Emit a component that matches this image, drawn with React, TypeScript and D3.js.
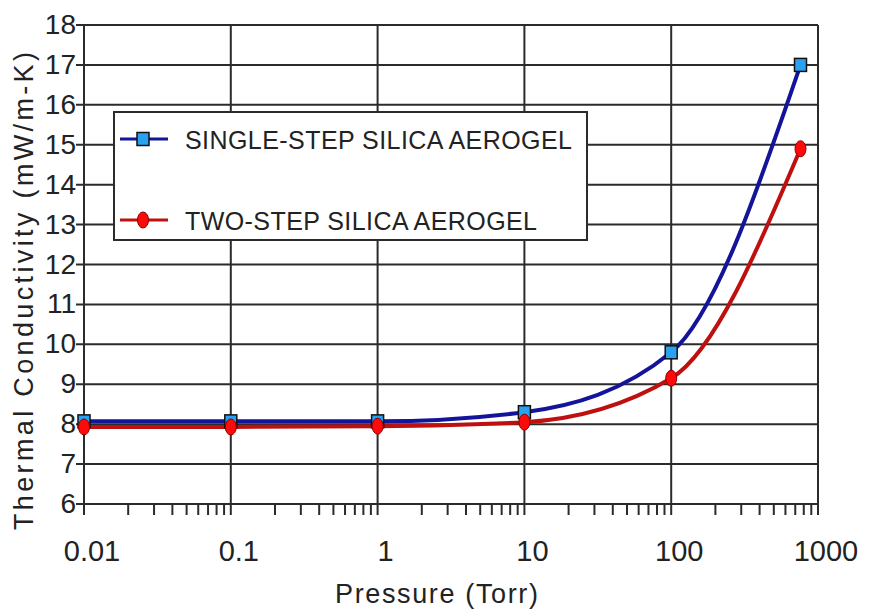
import React from "react";
import * as d3 from "d3";

const pressures = [0.01, 0.1, 1, 10, 100, 760];
const singleStep = [8.07, 8.07, 8.07, 8.3, 9.8, 17.0];
const twoStep = [7.93, 7.93, 7.95, 8.05, 9.15, 14.9];
const xTickValues = [0.01, 0.1, 1, 10, 100, 1000];
const xTickLabels = ["0.01", "0.1", "1", "10", "100", "1000"];
const yTickValues = [6, 7, 8, 9, 10, 11, 12, 13, 14, 15, 16, 17, 18];
const seriesNames = ["SINGLE-STEP SILICA AEROGEL", "TWO-STEP SILICA AEROGEL"];

const W = 882, H = 611;
const L = 84, R = 818, T = 25, B = 504;
const gridColor = "#2b2b2b";
const textColor = "#222";
const blue = "#14149a";
const red = "#bf1010";
const tickFont = "Liberation Sans, Arial, sans-serif";

function Square({ cx, cy }: { cx: number; cy: number }) {
  return <rect x={cx - 6} y={cy - 6.5} width={12} height={13} fill="#2aa0f0" stroke="#111" strokeWidth={1.5} />;
}
function Oval({ cx, cy }: { cx: number; cy: number }) {
  return <ellipse cx={cx} cy={cy} rx={5.5} ry={8} fill="#ff0a0a" stroke="#8a0000" strokeWidth={1} />;
}

export default function App() {
  const x = d3.scaleLog().domain([0.01, 1000]).range([L, R]);
  const y = d3.scaleLinear().domain([6, 18]).range([B, T]);
  const minor = x.ticks().filter((v) => !xTickValues.some((d) => Math.abs(d - v) / d < 1e-9));
  const line = d3
    .line<number>()
    .x((_, i) => x(pressures[i]))
    .y((d) => y(d))
    .curve(d3.curveMonotoneX);

  const lx0 = 114, ly0 = 112, lw = 473, lh = 128;
  const legendRows = [139, 220];
  const legendLengths = [387, 352];

  return (
    <div style={{ position: "absolute", left: 0, top: 0 }}>
      <svg width={W} height={H} style={{ display: "block", background: "#fff" }}>
        {yTickValues.map((v) => (
          <line key={"gy" + v} x1={L - 8} x2={R} y1={y(v)} y2={y(v)} stroke={gridColor} strokeWidth={2} />
        ))}
        {xTickValues.map((v) => (
          <line key={"gx" + v} x1={x(v)} x2={x(v)} y1={T} y2={B + 11} stroke={gridColor} strokeWidth={2} />
        ))}
        {minor.map((v) => (
          <line key={"mx" + v} x1={x(v)} x2={x(v)} y1={B} y2={B + 11} stroke={gridColor} strokeWidth={2} />
        ))}
        <path d={line(singleStep) || ""} fill="none" stroke={blue} strokeWidth={4} />
        <path d={line(twoStep) || ""} fill="none" stroke={red} strokeWidth={4} />
        {pressures.map((p, i) => (
          <Square key={"s" + i} cx={x(p)} cy={y(singleStep[i])} />
        ))}
        {pressures.map((p, i) => (
          <Oval key={"o" + i} cx={x(p)} cy={y(twoStep[i])} />
        ))}
        <rect x={lx0} y={ly0} width={lw} height={lh} fill="#fff" stroke={gridColor} strokeWidth={2} />
        <line x1={120} x2={168} y1={legendRows[0]} y2={legendRows[0]} stroke={blue} strokeWidth={3} />
        <Square cx={143} cy={legendRows[0]} />
        <line x1={120} x2={168} y1={legendRows[1]} y2={legendRows[1]} stroke={red} strokeWidth={3} />
        <Oval cx={143} cy={legendRows[1]} />
        {seriesNames.map((n, i) => (
          <text
            key={n}
            x={185}
            y={legendRows[i] + 9.5}
            fontFamily={tickFont}
            fontSize={25}
            fill={textColor}
            textLength={legendLengths[i]}
            lengthAdjust="spacing"
          >
            {n}
          </text>
        ))}
        {yTickValues.map((v) => (
          <text key={"ty" + v} x={76} y={y(v) + 9} textAnchor="end" fontFamily={tickFont} fontSize={28} fill={textColor}>
            {v}
          </text>
        ))}
        {xTickValues.map((v, i) => (
          <text key={"tx" + v} x={x(v) + 8} y={561} textAnchor="middle" fontFamily={tickFont} fontSize={29} fill={textColor}>
            {xTickLabels[i]}
          </text>
        ))}
        <text
          x={335}
          y={603}
          fontFamily={tickFont}
          fontSize={27}
          fill={textColor}
          textLength={203}
          lengthAdjust="spacing"
        >
          Pressure (Torr)
        </text>
        <text
          transform={`translate(33, 530) rotate(-90)`}
          fontFamily={tickFont}
          fontSize={27}
          fill={textColor}
          textLength={478}
          lengthAdjust="spacing"
        >
          Thermal Conductivity (mW/m-K)
        </text>
      </svg>
    </div>
  );
}
